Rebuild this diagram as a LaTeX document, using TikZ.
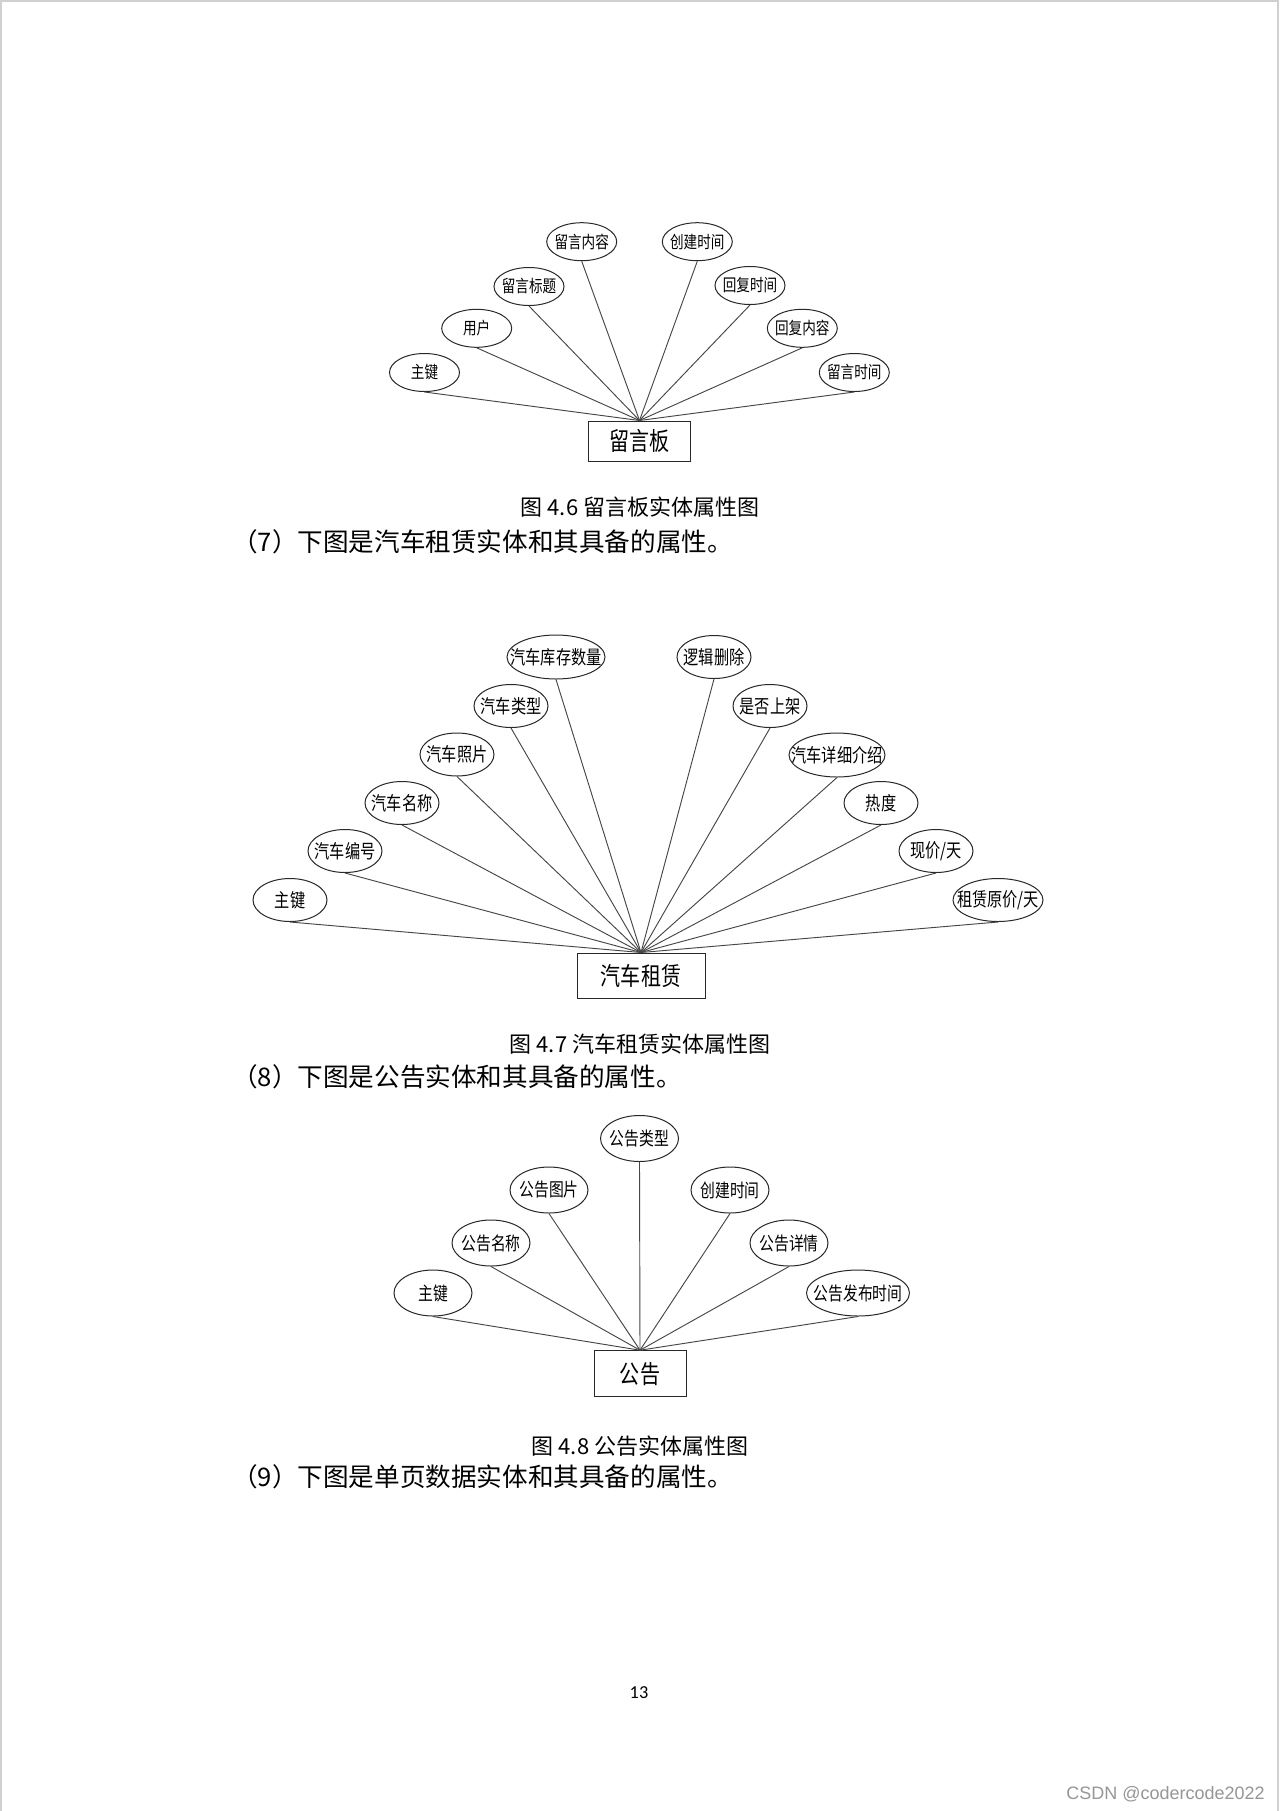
\documentclass[tikz,border=0pt]{standalone}
\usepackage{mathtools}
\usepackage{fontspec}
\usepackage{tikz}
\usetikzlibrary{shapes.geometric}
\setmainfont{Noto Sans CJK SC}
\newfontfamily\attrfont[FakeStretch=0.8]{Noto Sans CJK SC}
\newfontfamily\markfont{Liberation Sans}
\newfontfamily\numfont{Carlito}
\definecolor{edgeInk}{RGB}{40,40,40}
\definecolor{linkInk}{RGB}{70,70,70}
\definecolor{pageEdge}{RGB}{208,208,208}
\definecolor{markGray}{RGB}{150,150,150}
\tikzset{
  attrA/.style={ellipse, draw=edgeInk, line width=0.75pt, inner sep=0pt, minimum width=52.5pt, minimum height=28.5pt, font=\attrfont\fontsize{12.75pt}{13pt}\selectfont},
  attrB/.style={attrA, minimum width=55.5pt, minimum height=32.25pt, font=\attrfont\fontsize{14.25pt}{15pt}\selectfont},
  attrC/.style={attrA, minimum width=58.5pt, minimum height=34.5pt, font=\attrfont\fontsize{13.9pt}{15pt}\selectfont},
  entity/.style={rectangle, draw=edgeInk, line width=0.75pt, inner sep=0pt, font=\attrfont\fontsize{18.8pt}{19pt}\selectfont},
  link/.style={draw=linkInk, line width=0.7pt},
  caption/.style={inner sep=0pt, font=\fontsize{16.5pt}{17pt}\selectfont},
  para/.style={inner sep=0pt, anchor=west, font=\fontsize{19.2pt}{20pt}\selectfont}
}
\begin{document}
\begin{tikzpicture}[x=0.75pt, y=-0.75pt]
  \fill[white] (0,0) rectangle (1280,1811);
  \useasboundingbox (0,0) rectangle (1280,1811);
  \draw[pageEdge, line width=1.5pt] (1,1811) -- (1,1) -- (1278,1) -- (1278,1811);

  % message board
  \node[entity, minimum width=76.5pt, minimum height=30pt] (msg) at (639.5,441) {留言板};
  \node[attrA] (msgKey) at (424.5,372.5) {\clap{主键}};
  \node[attrA] (msgUser) at (476.7,328.3) {\clap{用户}};
  \node[attrA] (msgTitle) at (529,286.5) {\clap{留言标题}};
  \node[attrA] (msgContent) at (581.7,241.7) {\clap{留言内容}};
  \node[attrA] (msgCreate) at (697.3,241.7) {\clap{创建时间}};
  \node[attrA] (msgReplyTime) at (750,285.5) {\clap{回复时间}};
  \node[attrA] (msgReply) at (802.3,328.3) {\clap{回复内容}};
  \node[attrA] (msgTime) at (854.3,372.5) {\clap{留言时间}};
  \draw[link] (msgKey.south) -- (msg.north);
  \draw[link] (msgUser.south) -- (msg.north);
  \draw[link] (msgTitle.south) -- (msg.north);
  \draw[link] (msgContent.south) -- (msg.north);
  \draw[link] (msgCreate.south) -- (msg.north);
  \draw[link] (msgReplyTime.south) -- (msg.north);
  \draw[link] (msgReply.south) -- (msg.north);
  \draw[link] (msgTime.south) -- (msg.north);
  \node[caption] (capA) at (640,507) {图 4.6 留言板实体属性图};
  \node[para] (parA) at (232,542) {（7）下图是汽车租赁实体和其具备的属性。};

  % car rental
  \node[entity, minimum width=96pt, minimum height=33.75pt] (car) at (641,975.5) {汽车租赁};
  \node[attrB] (carKey) at (290,900) {\clap{主键}};
  \node[attrB] (carNo) at (345,851) {\clap{汽车编号}};
  \node[attrB] (carName) at (402,803) {\clap{汽车名称}};
  \node[attrB] (carPhoto) at (457,754.5) {\clap{汽车照片}};
  \node[attrB] (carType) at (511,706) {\clap{汽车类型}};
  \node[attrB, minimum width=73.5pt, minimum height=33pt] (carStock) at (556,657) {\clap{汽车库存数量}};
  \node[attrB] (carDel) at (714,657) {\clap{逻辑删除}};
  \node[attrB] (carShelf) at (770,706) {\clap{是否上架}};
  \node[attrB, minimum width=72pt, minimum height=33pt] (carDetail) at (837,755) {\clap{汽车详细介绍}};
  \node[attrB] (carHeat) at (881,803) {\clap{热度}};
  \node[attrB] (carPrice) at (936,851) {\clap{现价/天}};
  \node[attrB, minimum width=67.5pt] (carBase) at (998,900) {\clap{租赁原价/天}};
  \draw[link] (carKey.south) -- (car.north);
  \draw[link] (carNo.south) -- (car.north);
  \draw[link] (carName.south) -- (car.north);
  \draw[link] (carPhoto.south) -- (car.north);
  \draw[link] (carType.south) -- (car.north);
  \draw[link] (carStock.south) -- (car.north);
  \draw[link] (carDel.south) -- (car.north);
  \draw[link] (carShelf.south) -- (car.north);
  \draw[link] (carDetail.south) -- (car.north);
  \draw[link] (carHeat.south) -- (car.north);
  \draw[link] (carPrice.south) -- (car.north);
  \draw[link] (carBase.south) -- (car.north);
  \node[caption] (capB) at (640,1044) {图 4.7 汽车租赁实体属性图};
  \node[para] (parB) at (232,1077) {（8）下图是公告实体和其具备的属性。};

  % notice
  \node[entity, minimum width=69pt, minimum height=34.5pt] (notice) at (640,1373.7) {公告};
  \node[attrC] (ntKey) at (433,1293) {\clap{主键}};
  \node[attrC] (ntName) at (491,1243) {\clap{公告名称}};
  \node[attrC] (ntPic) at (549,1190) {\clap{公告图片}};
  \node[attrC] (ntType) at (639.5,1138.5) {\clap{公告类型}};
  \node[attrC] (ntCreate) at (730,1190) {\clap{创建时间}};
  \node[attrC] (ntDetail) at (789,1243) {\clap{公告详情}};
  \node[attrC, minimum width=77.25pt] (ntPub) at (858,1293) {\clap{公告发布时间}};
  \draw[link] (ntKey.south) -- (notice.north);
  \draw[link] (ntName.south) -- (notice.north);
  \draw[link] (ntPic.south) -- (notice.north);
  \draw[link] (ntType.south) -- (notice.north);
  \draw[link] (ntCreate.south) -- (notice.north);
  \draw[link] (ntDetail.south) -- (notice.north);
  \draw[link] (ntPub.south) -- (notice.north);
  \node[caption] (capC) at (640,1446) {图 4.8 公告实体属性图};
  \node[para] (parC) at (232,1477) {（9）下图是单页数据实体和其具备的属性。};

  \node[inner sep=0pt, font=\numfont\fontsize{13.7pt}{14pt}\selectfont] (pageNo) at (639,1693) {13};
  \node[inner sep=0pt, anchor=east, text=markGray, font=\markfont\fontsize{13.5pt}{14pt}\selectfont] (mark) at (1265,1794) {CSDN @codercode2022};
\end{tikzpicture}
\end{document}
